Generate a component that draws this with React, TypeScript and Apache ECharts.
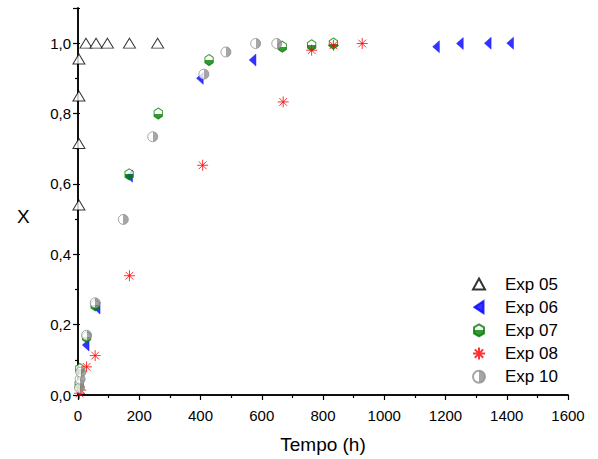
import React, { useEffect, useRef } from "react";
import * as echarts from "echarts";

// Data (Tempo in h, X conversion)
const exp05: number[][] = [
  [3, 0.54], [3, 0.715], [3, 0.85], [3, 0.955],
  [26, 1.0], [59, 1.0], [96, 1.0], [168, 1.0], [260, 1.0],
];
const exp06: number[][] = [
  [25, 0.142], [61, 0.247], [167, 0.622], [398, 0.9], [570, 0.952],
  [1169, 0.99], [1247, 0.999], [1338, 1.0], [1411, 1.0],
];
const exp07: number[][] = [
  [4, 0.03], [6, 0.074], [28, 0.165], [56, 0.255], [167, 0.627], [262, 0.8],
  [428, 0.952], [667, 0.99], [763, 0.994], [834, 0.999],
];
const exp08: number[][] = [
  [5, 0.005], [9, 0.014], [28, 0.08], [56, 0.112], [168, 0.339], [407, 0.653],
  [670, 0.833], [763, 0.98], [834, 0.994], [928, 0.999],
];
const exp10: number[][] = [
  [5, 0.02], [7, 0.045], [9, 0.065], [28, 0.17], [56, 0.262], [148, 0.499],
  [244, 0.734], [411, 0.912], [483, 0.975], [580, 0.999], [649, 0.999],
];
const seriesNames = ["Exp 05", "Exp 06", "Exp 07", "Exp 08", "Exp 10"];

const FONT = "Liberation Sans, Arial, sans-serif";

export default function App() {
  const ref = useRef<HTMLDivElement>(null);
  useEffect(() => {
    if (!ref.current) return;
    const chart = echarts.init(ref.current, null, { renderer: "svg" });
    const halfV = (c: string) => ({
      type: "linear", x: 0, y: 0, x2: 0, y2: 1,
      colorStops: [
        { offset: 0, color: "#ffffff" }, { offset: 0.5, color: "#ffffff" },
        { offset: 0.5, color: c }, { offset: 1, color: c },
      ],
    });
    const halfH = (c: string) => ({
      type: "linear", x: 0, y: 0, x2: 1, y2: 0,
      colorStops: [
        { offset: 0, color: "#ffffff" }, { offset: 0.5, color: "#ffffff" },
        { offset: 0.5, color: c }, { offset: 1, color: c },
      ],
    });
    const axisCommon = {
      axisLine: { show: true, lineStyle: { color: "#000", width: 1.5 } },
      splitLine: { show: false },
    };
    chart.setOption({
      animation: false,
      backgroundColor: "#fff",
      grid: { left: 78, right: 30, top: 8, bottom: 64, containLabel: false, outerBoundsMode: "none" },
      legend: {
        orient: "vertical",
        left: 472,
        top: 274,
        padding: 0,
        itemWidth: 12,
        itemHeight: 12,
        itemGap: 3.2,
        data: seriesNames,
        textStyle: { fontFamily: FONT, fontSize: 17, color: "#000", lineHeight: 20, padding: [0, 0, 0, 15] },
      },
      graphic: [
        {
          type: "text", left: 17, top: 207,
          style: { text: "X", fontFamily: FONT, fontSize: 19, fill: "#000" },
        },
      ],
      xAxis: [
        {
          type: "value", min: 0, max: 1600, interval: 200,
          name: "Tempo (h)", nameLocation: "middle", nameGap: 40,
          nameTextStyle: { fontFamily: FONT, fontSize: 19, color: "#000" },
          ...axisCommon,
          axisTick: { show: true, inside: false, length: 5, lineStyle: { color: "#000", width: 1.2 } },
          minorTick: { show: true, splitNumber: 2, length: 3, lineStyle: { color: "#000", width: 1.2 } },
          axisLabel: { fontFamily: FONT, fontSize: 15, color: "#000", margin: 13, formatter: (v: number) => String(v) },
        },
        {
          type: "value", min: 0, max: 1600, interval: 200, position: "top",
          ...axisCommon,
          axisTick: { show: true, inside: true, length: 2, lineStyle: { color: "#000" } },
          axisLabel: { show: false },
        },
      ],
      yAxis: [
        {
          type: "value", min: 0, max: 1.1, interval: 0.2,
          ...axisCommon,
          axisTick: { show: true, inside: false, length: 5, lineStyle: { color: "#000", width: 1.2 } },
          minorTick: { show: true, splitNumber: 2, length: 3, lineStyle: { color: "#000", width: 1.2 } },
          axisLabel: {
            fontFamily: FONT, fontSize: 15, color: "#000", margin: 7, showMaxLabel: false,
            formatter: (v: number) => (Math.abs(v * 10 - Math.round(v * 10)) < 1e-6 && Math.round(v * 10) % 2 === 0 ? v.toFixed(1).replace(".", ",") : ""),
          },
        },
        {
          type: "value", min: 0, max: 1.1, interval: 0.2, position: "right",
          ...axisCommon,
          axisTick: { show: true, inside: false, length: 2, lineStyle: { color: "#000" } },
          axisLabel: { show: false },
        },
      ],
      series: [
        {
          name: "Exp 05", type: "scatter", data: exp05,
          symbol: "path://M5,0L10,9L0,9Z", symbolSize: [12, 11], symbolKeepAspect: true,
          itemStyle: { color: "#ffffff", borderColor: "#000", borderWidth: 1 },
        },
        {
          name: "Exp 06", type: "scatter", data: exp06,
          symbol: "path://M0,6L9,0L9,12Z", symbolSize: [9, 12], symbolKeepAspect: true,
          itemStyle: { color: "#0000ff", borderColor: "#0000ff", borderWidth: 0.5 },
        },
        {
          name: "Exp 07", type: "scatter", data: exp07,
          symbol: "path://M5,0L10,3L10,9L5,12L0,9L0,3Z", symbolSize: [10, 11], symbolKeepAspect: true,
          itemStyle: { color: halfV("#008000"), borderColor: "#008000", borderWidth: 1 },
        },
        {
          name: "Exp 08", type: "scatter", data: exp08,
          symbol: "path://M0,5L10,5M5,0L5,10M1.5,1.5L8.5,8.5M1.5,8.5L8.5,1.5", symbolSize: [11, 11], symbolKeepAspect: true,
          itemStyle: { color: "rgba(0,0,0,0)", borderColor: "#ff0000", borderWidth: 1 },
        },
        {
          name: "Exp 10", type: "scatter", data: exp10,
          symbol: "path://M0,5A5,5,0,1,1,10,5A5,5,0,1,1,0,5Z", symbolSize: [10, 10], symbolKeepAspect: true,
          itemStyle: { color: halfH("#909090"), borderColor: "#909090", borderWidth: 1 },
        },
      ],
    });
    return () => chart.dispose();
  }, []);
  return <div ref={ref} style={{ width: 598, height: 459, position: "absolute", left: 0, top: 0 }} />;
}
